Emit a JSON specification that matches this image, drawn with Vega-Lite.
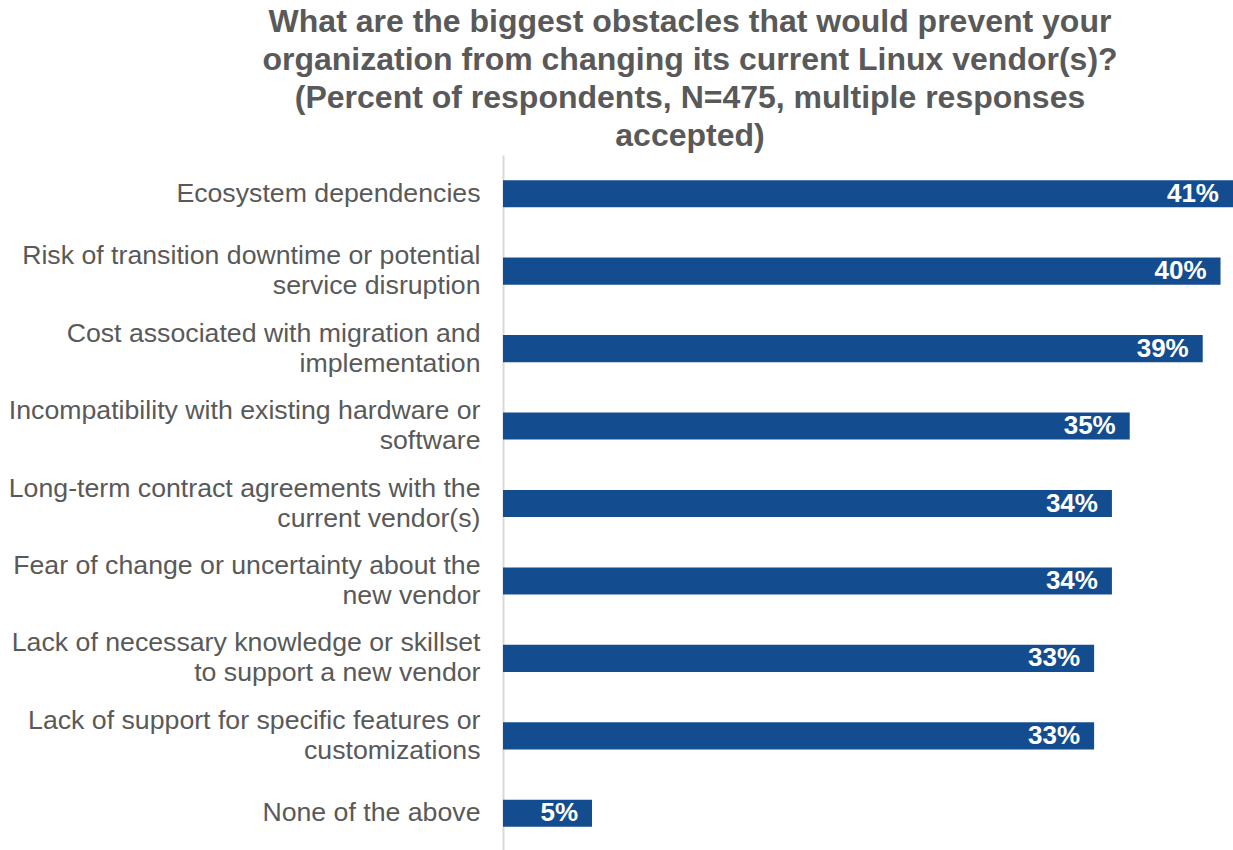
{
  "$schema": "https://vega.github.io/schema/vega-lite/v6.json",
  "width": 730,
  "height": 697,
  "autosize": {"type": "none"},
  "padding": {"left": 503, "top": 155, "right": 0, "bottom": 0},
  "background": "white",
  "title": {
    "text": ["What are the biggest obstacles that would prevent your", "organization from changing its current Linux vendor(s)?", "(Percent of respondents, N=475, multiple responses", "accepted)"],
    "font": "Liberation Sans",
    "fontSize": 32,
    "fontWeight": "bold",
    "color": "#595959",
    "lineHeight": 38,
    "anchor": "middle",
    "frame": "group",
    "dx": -178,
    "offset": 2
  },
  "data": {
    "values": [
      {"obstacle": "Ecosystem dependencies", "value": 41.0, "label": "41%"},
      {"obstacle": "Risk of transition downtime or potential|service disruption", "value": 40.3, "label": "40%"},
      {"obstacle": "Cost associated with migration and|implementation", "value": 39.3, "label": "39%"},
      {"obstacle": "Incompatibility with existing hardware or|software", "value": 35.2, "label": "35%"},
      {"obstacle": "Long-term contract agreements with the|current vendor(s)", "value": 34.2, "label": "34%"},
      {"obstacle": "Fear of change or uncertainty about the|new vendor", "value": 34.2, "label": "34%"},
      {"obstacle": "Lack of necessary knowledge or skillset|to support a new vendor", "value": 33.2, "label": "33%"},
      {"obstacle": "Lack of support for specific features or|customizations", "value": 33.2, "label": "33%"},
      {"obstacle": "None of the above", "value": 5.0, "label": "5%"}
    ]
  },
  "encoding": {
    "y": {
      "field": "obstacle",
      "type": "nominal",
      "sort": null,
      "scale": {"paddingInner": 0.65, "paddingOuter": 0.325},
      "axis": {
        "title": null,
        "ticks": false,
        "labelExpr": "split(datum.value, '|')",
        "labelFont": "Liberation Sans",
        "labelFontSize": 26.7,
        "labelColor": "#595959",
        "labelLineHeight": 30,
        "labelPadding": 23,
        "labelLimit": 0,
        "labelOffset": {"condition": {"test": "indexof(datum.value, '|') >= 0", "value": -15}, "value": 0},
        "domainColor": "#D9D9D9",
        "domainWidth": 2,
        "grid": false
      }
    },
    "x": {
      "field": "value",
      "type": "quantitative",
      "scale": {"domain": [0, 41], "nice": false},
      "axis": null
    }
  },
  "layer": [
    {"mark": {"type": "bar", "color": "#144D8F"}},
    {
      "mark": {"type": "text", "align": "right", "dx": -14, "color": "white", "font": "Liberation Sans", "fontWeight": "bold", "fontSize": 26, "baseline": "middle"},
      "encoding": {"text": {"field": "label"}}
    }
  ],
  "config": {"view": {"stroke": null}}
}
